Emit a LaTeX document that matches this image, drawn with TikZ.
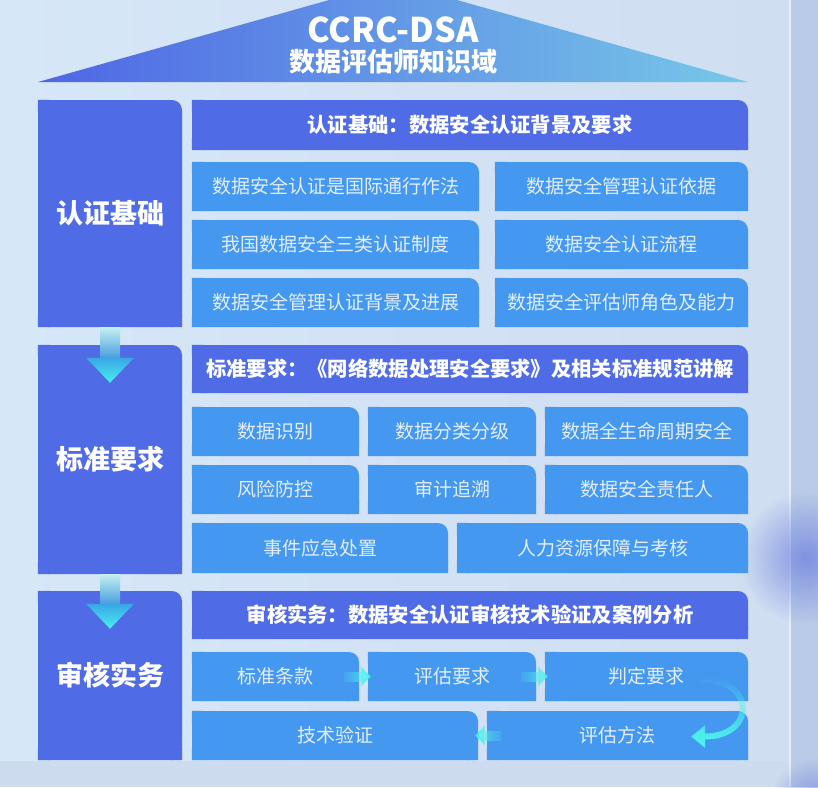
\documentclass[tikz,border=0pt]{standalone}
\usepackage{fontspec}
\setmainfont{Noto Sans CJK SC}
\usetikzlibrary{arrows.meta,fadings}
\definecolor{outerbg}{RGB}{205, 219, 238}
\definecolor{panelL}{RGB}{214, 231, 248}
\definecolor{panelR}{RGB}{207, 222, 241}
\definecolor{stripgrey}{RGB}{185, 203, 230}
\definecolor{blobblue}{RGB}{118, 136, 224}
\definecolor{roofL}{RGB}{79, 102, 228}
\definecolor{roofR}{RGB}{118, 200, 232}
\definecolor{royal}{RGB}{79, 107, 230}
\definecolor{itemblue}{RGB}{69, 152, 240}
\definecolor{itemtext}{RGB}{226, 238, 252}
\definecolor{flowcyan}{RGB}{76, 240, 236}
\definecolor{shaftT}{RGB}{196, 240, 240}
\definecolor{shaftB}{RGB}{60, 150, 222}
\definecolor{headT}{RGB}{58, 165, 228}
\definecolor{headB}{RGB}{70, 240, 242}

\tikzfading[name=softdot, inner color=transparent!15, outer color=transparent!100]

\tikzset{
  pillar/.style={fill=royal, text=white, rounded corners=10pt, inner sep=0pt,
    font=\fontsize{27}{31}\selectfont\bfseries},
  headbar/.style={fill=royal, text=white, rounded corners=10pt, inner sep=0pt,
    font=\fontsize{20.3}{24}\selectfont\bfseries},
  item/.style={fill=itemblue, text=itemtext, rounded corners=10pt, inner sep=0pt,
    font=\fontsize{19}{23}\selectfont},
  flow/.style={draw=flowcyan, line width=10pt, -{Triangle[width=20pt,length=10pt]}},
  turnflow/.style={draw=flowcyan, line width=6pt, -{Triangle[width=22pt,length=14pt]}}
}

% box with only its top right corner rounded: style, name, x1, y1, x2, y2, text
\newcommand{\tabnode}[7]{%
  \node[#1, minimum width={(#5-#3)*1pt}, minimum height={(#6-#4)*1pt}] (#2)
    at ({(#3+#5)/2},{(#4+#6)/2}) {#7};
  \path[#1, sharp corners] (#2.south west) rectangle ++(12pt,12pt)
    (#2.south east) rectangle ++(-12pt,12pt)
    (#2.north west) rectangle ++(12pt,-12pt);
}

\begin{document}
\begin{tikzpicture}[x=1pt,y=-1pt]
\useasboundingbox (0,0) rectangle (818,787);
\clip (0,0) rectangle (818,787);
% backdrop
\fill[outerbg] (0,0) rectangle (818,787);
\shade[left color=panelL, right color=panelR] (0,0) rectangle (790,760);
\fill[stripgrey] (790,0) rectangle (818,787);
\draw[white!65!stripgrey, line width=1.5pt] (790,0) -- (790,787);
\fill[blobblue, path fading=softdot] (806,558) circle (66pt);
\fill[blobblue, path fading=softdot] (816,806) circle (48pt);

% roof
\shade[left color=roofL, right color=roofR] (38,82) -- (393,-18) -- (748,82) -- cycle;
\node[font=\fontsize{34}{38}\selectfont\bfseries, text=white] (title) at (393,30) {CCRC-DSA};
\node[font=\fontsize{26}{30}\selectfont\bfseries, text=white] (subtitle) at (393,62) {数据评估师知识域};

% A: certification basics
\tabnode{pillar}{base}{38}{100}{182}{327}{认证基础}
\tabnode{headbar}{baseH}{192}{100}{748}{150}{认证基础：数据安全认证背景及要求}
\tabnode{item}{base1}{192}{162}{479}{211}{数据安全认证是国际通行作法}
\tabnode{item}{base2}{495}{162}{748}{211}{数据安全管理认证依据}
\tabnode{item}{base3}{192}{220}{479}{269}{我国数据安全三类认证制度}
\tabnode{item}{base4}{495}{220}{748}{269}{数据安全认证流程}
\tabnode{item}{base5}{192}{278}{479}{327}{数据安全管理认证背景及进展}
\tabnode{item}{base6}{495}{278}{748}{327}{数据安全评估师角色及能力}

% B: standard requirements
\tabnode{pillar}{std}{38}{345}{182}{574}{标准要求}
\tabnode{headbar}{stdH}{192}{345}{748}{393}{标准要求：《网络数据处理安全要求》及相关标准规范讲解}
\tabnode{item}{std1}{192}{407}{359}{456}{数据识别}
\tabnode{item}{std2}{368}{407}{536}{456}{数据分类分级}
\tabnode{item}{std3}{545}{407}{748}{456}{数据全生命周期安全}
\tabnode{item}{std4}{192}{465}{359}{514}{风险防控}
\tabnode{item}{std5}{368}{465}{536}{514}{审计追溯}
\tabnode{item}{std6}{545}{465}{748}{514}{数据安全责任人}
\tabnode{item}{std7}{192}{523}{448}{573}{事件应急处置}
\tabnode{item}{std8}{457}{523}{748}{573}{人力资源保障与考核}

% C: audit practice
\tabnode{pillar}{aud}{38}{591}{182}{760}{审核实务}
\tabnode{headbar}{audH}{192}{591}{748}{639}{审核实务：数据安全认证审核技术验证及案例分析}
\tabnode{item}{aud1}{192}{652}{359}{701}{标准条款}
\tabnode{item}{aud2}{368}{652}{536}{701}{评估要求}
\tabnode{item}{aud3}{545}{652}{748}{701}{判定要求}
\tabnode{item}{aud5}{192}{711}{478}{760}{技术验证}
\tabnode{item}{aud4}{487}{711}{748}{760}{评估方法}

% down arrows between pillars
\foreach \a/\b in {base/std, std/aud}{
  \shade[top color=shaftT, bottom color=shaftB]
    ([xshift=-10pt]\a.south) rectangle ([xshift=10pt,yshift=-16pt]\b.north);
  \shade[top color=headT, bottom color=headB]
    ([xshift=-24pt,yshift=-13pt]\b.north) -- ([xshift=24pt,yshift=-13pt]\b.north)
    -- ([yshift=-38pt]\b.north) -- cycle;
}

% audit flow
\draw[flow, path fading=west] ([xshift=-15pt]aud1.east) -- ([xshift=3pt]aud2.west);
\draw[flow, path fading=west] ([xshift=-15pt]aud2.east) -- ([xshift=3pt]aud3.west);
\draw[turnflow, path fading=north] ([xshift=-47pt,yshift=-3pt]aud3.east)
  .. controls +(55,0) and +(65,0) .. ([xshift=-57pt,yshift=-1pt]aud4.east);
\draw[flow, path fading=east] ([xshift=14pt]aud4.west) -- ([xshift=-3pt]aud5.east);
\end{tikzpicture}
\end{document}
